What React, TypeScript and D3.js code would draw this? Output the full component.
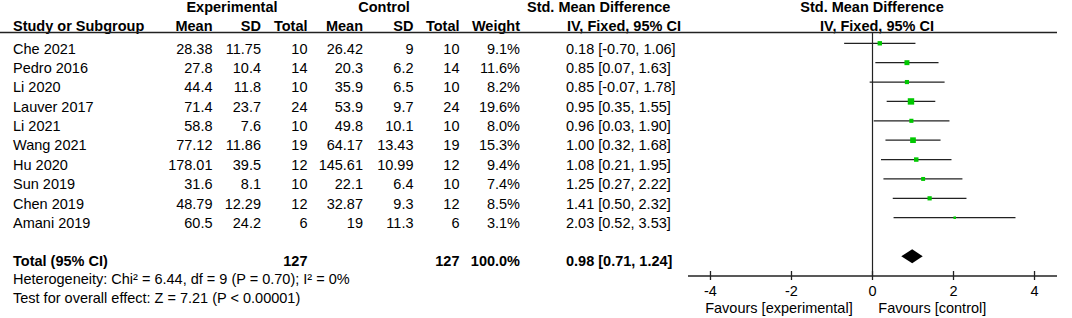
import React from "react";
import * as d3 from "d3";

const studies = ["Che 2021", "Pedro 2016", "Li 2020", "Lauver 2017", "Li 2021", "Wang 2021", "Hu 2020", "Sun 2019", "Chen 2019", "Amani 2019"];
const expMean = [28.38, 27.8, 44.4, 71.4, 58.8, 77.12, 178.01, 31.6, 48.79, 60.5];
const expSD = [11.75, 10.4, 11.8, 23.7, 7.6, 11.86, 39.5, 8.1, 12.29, 24.2];
const expN = [10, 14, 10, 24, 10, 19, 12, 10, 12, 6];
const ctrlMean = [26.42, 20.3, 35.9, 53.9, 49.8, 64.17, 145.61, 22.1, 32.87, 19];
const ctrlSD = [9, 6.2, 6.5, 9.7, 10.1, 13.43, 10.99, 6.4, 9.3, 11.3];
const ctrlN = [10, 14, 10, 24, 10, 19, 12, 10, 12, 6];
const weights = [9.1, 11.6, 8.2, 19.6, 8.0, 15.3, 9.4, 7.4, 8.5, 3.1];
const smd = [0.18, 0.85, 0.85, 0.95, 0.96, 1.0, 1.08, 1.25, 1.41, 2.03];
const ciLow = [-0.7, 0.07, -0.07, 0.35, 0.03, 0.32, 0.21, 0.27, 0.5, 0.52];
const ciHigh = [1.06, 1.63, 1.78, 1.55, 1.9, 1.68, 1.95, 2.22, 2.32, 3.53];

const totalExpN = 127;
const totalCtrlN = 127;
const totalWeight = 100.0;
const totalSmd = 0.98;
const totalLow = 0.71;
const totalHigh = 1.24;

const axisTicks = [-4, -2, 0, 2, 4];
const heterogeneityText = "Heterogeneity: Chi² = 6.44, df = 9 (P = 0.70); I² = 0%";
const overallText = "Test for overall effect: Z = 7.21 (P < 0.00001)";
const favLeft = "Favours [experimental]";
const favRight = "Favours [control]";

const W = 1072;
const H = 318;
const FONT = "'Liberation Sans', Arial, Helvetica, sans-serif";
const FS = 14.5;

const fmtCI = (m: number, l: number, h: number) => `${m.toFixed(2)} [${l.toFixed(2)}, ${h.toFixed(2)}]`;

export default function App() {
  const x = d3.scaleLinear().domain([-4.555, 4.555]).range([688, 1057]);
  const rowY = d3.scaleLinear().domain([0, studies.length - 1]).range([43.3, 217.7]);
  const textOff = 10.2;
  const diamondY = 256.3;
  const totalBase = 265.9;
  const axisY = 276;
  const lineColor = "#222";
  const green = "#00c800";

  const cols = {
    expMean: 212.5,
    expSD: 261,
    expN: 307.5,
    ctrlMean: 363,
    ctrlSD: 413.5,
    ctrlN: 459.5,
    weight: 520,
    ci: 566,
  };

  const hdr1 = 12;
  const hdr2 = 31;

  return (
    <svg
      width={W}
      height={H}
      style={{ position: "absolute", left: 0, top: 0, background: "#fff" }}
      fontFamily={FONT}
      fontSize={FS}
      fill="#000"
    >
      {/* Headers */}
      <g fontWeight="bold">
        <text x={232} y={hdr1} textAnchor="middle">Experimental</text>
        <text x={384} y={hdr1} textAnchor="middle">Control</text>
        <text x={527} y={hdr1}>Std. Mean Difference</text>
        <text x={872} y={hdr1} textAnchor="middle">Std. Mean Difference</text>
        <text x={13} y={hdr2}>Study or Subgroup</text>
        <text x={cols.expMean} y={hdr2} textAnchor="end">Mean</text>
        <text x={cols.expSD} y={hdr2} textAnchor="end">SD</text>
        <text x={cols.expN} y={hdr2} textAnchor="end">Total</text>
        <text x={cols.ctrlMean} y={hdr2} textAnchor="end">Mean</text>
        <text x={cols.ctrlSD} y={hdr2} textAnchor="end">SD</text>
        <text x={cols.ctrlN} y={hdr2} textAnchor="end">Total</text>
        <text x={cols.weight} y={hdr2} textAnchor="end">Weight</text>
        <text x={567} y={hdr2}>IV, Fixed, 95% CI</text>
        <text x={877} y={hdr2} textAnchor="middle">IV, Fixed, 95% CI</text>
      </g>
      <line x1={0} x2={1057} y1={32.5} y2={32.5} stroke={lineColor} strokeWidth={1.5} />

      {/* Study rows */}
      {studies.map((s, i) => {
        const ty = rowY(i) + textOff;
        return (
          <g key={s + i}>
            <text x={13} y={ty}>{s}</text>
            <text x={cols.expMean} y={ty} textAnchor="end">{String(expMean[i])}</text>
            <text x={cols.expSD} y={ty} textAnchor="end">{String(expSD[i])}</text>
            <text x={cols.expN} y={ty} textAnchor="end">{String(expN[i])}</text>
            <text x={cols.ctrlMean} y={ty} textAnchor="end">{String(ctrlMean[i])}</text>
            <text x={cols.ctrlSD} y={ty} textAnchor="end">{String(ctrlSD[i])}</text>
            <text x={cols.ctrlN} y={ty} textAnchor="end">{String(ctrlN[i])}</text>
            <text x={cols.weight} y={ty} textAnchor="end">{weights[i].toFixed(1) + "%"}</text>
            <text x={cols.ci} y={ty}>{fmtCI(smd[i], ciLow[i], ciHigh[i])}</text>
          </g>
        );
      })}

      {/* Total row */}
      <g fontWeight="bold">
        <text x={13} y={totalBase}>Total (95% CI)</text>
        <text x={cols.expN} y={totalBase} textAnchor="end">{String(totalExpN)}</text>
        <text x={cols.ctrlN} y={totalBase} textAnchor="end">{String(totalCtrlN)}</text>
        <text x={cols.weight} y={totalBase} textAnchor="end">{totalWeight.toFixed(1) + "%"}</text>
        <text x={cols.ci} y={totalBase}>{fmtCI(totalSmd, totalLow, totalHigh)}</text>
      </g>
      <text x={13} y={284.2}>{heterogeneityText}</text>
      <text x={13} y={302.9}>{overallText}</text>

      {/* Forest plot */}
      <line x1={x(0)} x2={x(0)} y1={32.5} y2={axisY} stroke={lineColor} strokeWidth={1.2} />
      {studies.map((s, i) => {
        const cy = rowY(i);
        const side = 1.45 * Math.sqrt(weights[i]);
        return (
          <g key={"ci" + i}>
            <line x1={x(ciLow[i])} x2={x(ciHigh[i])} y1={cy} y2={cy} stroke={lineColor} strokeWidth={1.3} />
            <rect x={x(smd[i]) - side / 2} y={cy - side / 2} width={side} height={side} fill={green} />
          </g>
        );
      })}
      <path
        d={`M${x(totalLow)},${diamondY} L${x(totalSmd)},${diamondY - 7} L${x(totalHigh)},${diamondY} L${x(totalSmd)},${diamondY + 7} Z`}
        fill="#000"
      />

      {/* Axis */}
      <line x1={x.range()[0]} x2={x.range()[1]} y1={axisY} y2={axisY} stroke={lineColor} strokeWidth={1.3} />
      {axisTicks.map((t) => (
        <g key={"t" + t}>
          <line x1={x(t)} x2={x(t)} y1={axisY - 5} y2={axisY + 4} stroke={lineColor} strokeWidth={1.3} />
          <text x={x(t)} y={axisY + 20} textAnchor="middle">{String(t)}</text>
        </g>
      ))}
      <text x={852.7} y={313.3} textAnchor="end">{favLeft}</text>
      <text x={878.3} y={313.3}>{favRight}</text>
    </svg>
  );
}
